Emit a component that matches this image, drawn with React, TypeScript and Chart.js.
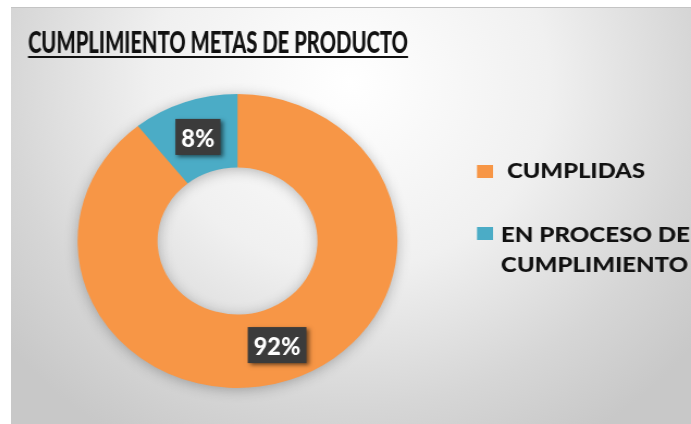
import React, { useEffect, useRef } from "react";
import { Chart, registerables } from "chart.js";

Chart.register(...registerables);

// ---- data ----
const categories = ["CUMPLIDAS", "EN PROCESO DE CUMPLIMIENTO"];
const sliceValues = [89.3, 10.7];
const labelTexts = ["92%", "8%"];
const sliceColors = ["#F79646", "#4BACC6"];
const titleText = "CUMPLIMIENTO METAS DE PRODUCTO";
const legendLines = [["CUMPLIDAS"], ["EN PROCESO DE", "CUMPLIMIENTO"]];

// ---- layout ----
const SX = 1.088; // horizontal stretch of the picture
const PANEL_W = 680;
const PANEL_H = 417;
const CANVAS_W = Math.round(PANEL_W / SX);
const FONT = "Lato, 'Open Sans', sans-serif";

const px = (pageX: number) => (pageX - 11) / SX;
const py = (pageY: number) => pageY - 7;

function fitText(
  ctx: CanvasRenderingContext2D,
  text: string,
  x: number,
  baseline: number,
  targetW: number
) {
  const w = ctx.measureText(text).width;
  ctx.save();
  ctx.translate(x, baseline);
  ctx.scale(targetW / w, 1);
  ctx.textBaseline = "alphabetic";
  ctx.textAlign = "left";
  ctx.fillText(text, 0, 0);
  ctx.restore();
}

const decorPlugin = {
  id: "decor",
  beforeDatasetsDraw(chart: any) {
    const ctx: CanvasRenderingContext2D = chart.ctx;
    const arc = chart.getDatasetMeta(0).data[0];
    if (!arc) return;
    const { x, y, outerRadius, innerRadius } = arc.getProps(
      ["x", "y", "outerRadius", "innerRadius"],
      true
    );
    ctx.save();
    ctx.shadowColor = "rgba(0,0,0,0.3)";
    ctx.shadowBlur = 14;
    ctx.shadowOffsetX = 0;
    ctx.shadowOffsetY = 2;
    ctx.beginPath();
    ctx.arc(x, y, outerRadius - 1, 0, Math.PI * 2);
    ctx.arc(x, y, innerRadius + 1, 0, Math.PI * 2, true);
    ctx.closePath();
    ctx.fillStyle = "#F79646";
    ctx.fill();
    ctx.restore();
  },
  afterDatasetsDraw(chart: any) {
    const ctx: CanvasRenderingContext2D = chart.ctx;
    ctx.save();
    // title
    ctx.fillStyle = "#111111";
    ctx.font = `900 30px ${FONT}`;
    const tx = px(28);
    const tw = 380 / SX;
    fitText(ctx, titleText, tx, py(53), tw);
    ctx.fillRect(tx, py(56), tw, 2);

    // legend
    const squares = [py(165), py(227)];
    const textX = [px(507), px(501)];
    const baselines = [[py(178)], [py(242), py(272)]];
    const widths = [[138 / SX], [189 / SX, 187 / SX]];
    legendLines.forEach((lines, i) => {
      ctx.fillStyle = sliceColors[i];
      ctx.fillRect(px(477), squares[i], 16 / SX, 13);
      ctx.fillStyle = "#111111";
      ctx.font = `900 20px ${FONT}`;
      lines.forEach((ln, j) => fitText(ctx, ln, textX[i], baselines[i][j], widths[i][j]));
    });

    // data labels
    const meta = chart.getDatasetMeta(0);
    ctx.font = `900 24px ${FONT}`;
    const condense = 0.9;
    meta.data.forEach((el: any, i: number) => {
      const c = el.getCenterPoint();
      const text = labelTexts[i];
      const tw2 = ctx.measureText(text).width * condense;
      const bw = tw2 + 11;
      const bh = 36;
      ctx.save();
      ctx.shadowColor = "rgba(0,0,0,0.55)";
      ctx.shadowBlur = 4;
      ctx.shadowOffsetX = 2;
      ctx.shadowOffsetY = 2;
      ctx.fillStyle = "#3b3b3b";
      ctx.fillRect(c.x - bw / 2, c.y - bh / 2, bw, bh);
      ctx.restore();
      ctx.fillStyle = "#ffffff";
      fitText(ctx, text, c.x - tw2 / 2, c.y + 10, tw2);
    });
    ctx.restore();
  },
};

export default function App() {
  const canvasRef = useRef<HTMLCanvasElement | null>(null);

  useEffect(() => {
    const canvas = canvasRef.current;
    if (!canvas) return;
    const cx = px(237.5);
    const cy = py(241);
    const r = 147;
    const chart = new Chart(canvas, {
      type: "doughnut",
      data: {
        labels: categories,
        datasets: [
          {
            data: sliceValues,
            backgroundColor: sliceColors,
            borderWidth: 0,
          },
        ],
      },
      options: {
        responsive: false,
        animation: false,
        devicePixelRatio: 1,
        cutout: "50%",
        layout: {
          padding: {
            left: cx - r,
            right: CANVAS_W - (cx + r),
            top: cy - r,
            bottom: PANEL_H - (cy + r),
          },
        },
        plugins: {
          legend: { display: false },
          title: { display: false },
          tooltip: { enabled: false },
        },
      },
      plugins: [decorPlugin],
    });
    return () => chart.destroy();
  }, []);

  return (
    <div
      style={{
        position: "fixed",
        left: 11,
        top: 7,
        width: PANEL_W,
        height: PANEL_H,
        overflow: "hidden",
        borderTop: "1px solid #c4c4c4",
        boxSizing: "border-box",
        background:
          "radial-gradient(ellipse 65% 100% at 50% 18%, #ffffff 0%, #f0f0f0 45%, #d6d6d6 78%, #c8c8c8 100%)",
      }}
    >
      <canvas
        ref={canvasRef}
        width={CANVAS_W}
        height={PANEL_H}
        style={{
          display: "block",
          width: CANVAS_W,
          height: PANEL_H,
          transform: `scaleX(${SX})`,
          transformOrigin: "0 0",
          position: "absolute",
          left: 0,
          top: -1,
        }}
      />
    </div>
  );
}
